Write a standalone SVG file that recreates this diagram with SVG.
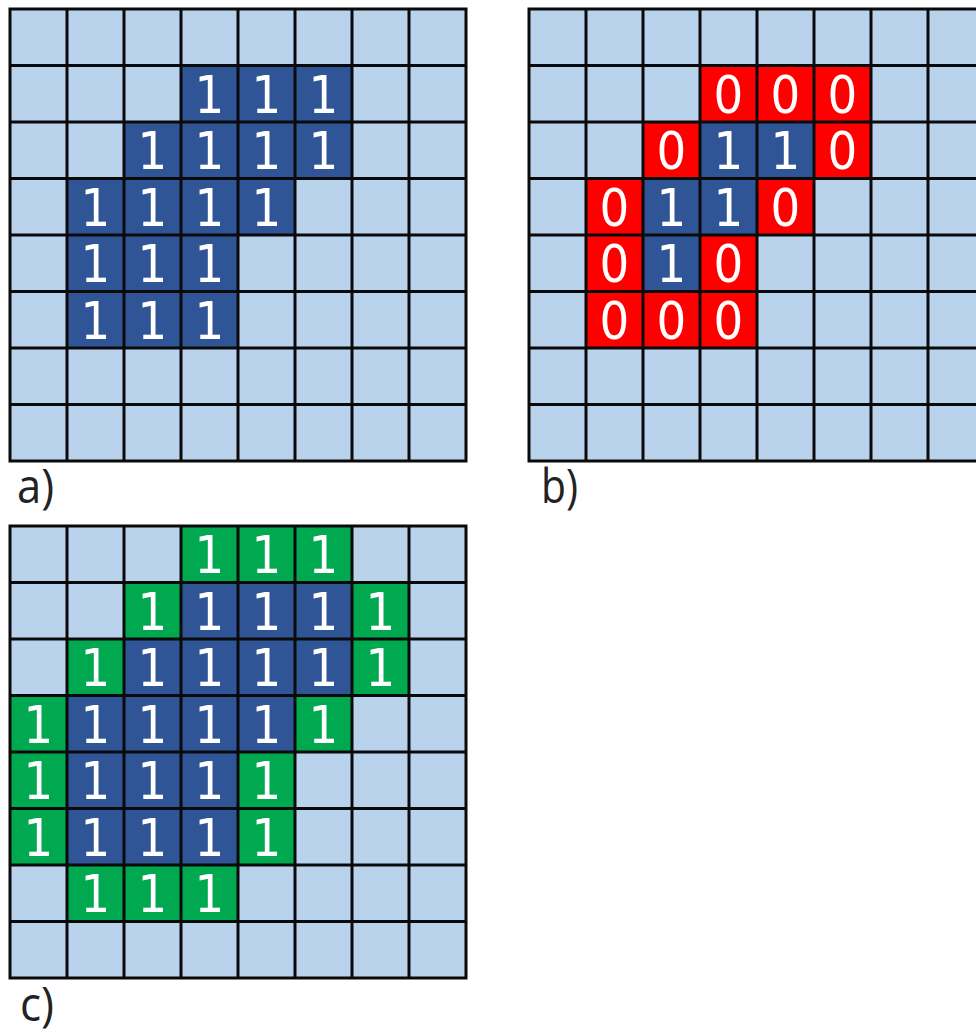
<svg xmlns="http://www.w3.org/2000/svg" width="976" height="1034" viewBox="0 0 976 1034">
<style>
.bg{fill:#BAD3EC}
.bl{fill:#2F5597}
.rd{fill:#FF0000}
.gn{fill:#00A84F}
.grid{fill:none;stroke:#0a0a0a;stroke-width:3;stroke-linecap:square}
.d{font-family:"DejaVu Sans Condensed","DejaVu Sans",sans-serif;font-stretch:condensed;font-size:52px;fill:#ffffff;text-anchor:middle}
.lb{font-family:"Open Sans","DejaVu Sans",sans-serif;font-size:48px;fill:#222222}
</style>
<rect width="976" height="1034" fill="#ffffff"/>
<g id="panel-a">
<rect class="bg" x="10" y="9" width="456" height="452"/>
<rect class="bl" x="181" y="65.5" width="171" height="56.5"/>
<rect class="bl" x="124" y="122" width="228" height="56.5"/>
<rect class="bl" x="67" y="178.5" width="228" height="56.5"/>
<rect class="bl" x="67" y="235" width="171" height="113"/>
<path class="grid" d="M10 9V461M67 9V461M124 9V461M181 9V461M238 9V461M295 9V461M352 9V461M409 9V461M466 9V461M10 9H466M10 65.5H466M10 122H466M10 178.5H466M10 235H466M10 291.5H466M10 348H466M10 404.5H466M10 461H466"/>
<text class="d" x="209.5" y="112.5">1</text><text class="d" x="266.5" y="112.5">1</text><text class="d" x="323.5" y="112.5">1</text>
<text class="d" x="152.5" y="169">1</text><text class="d" x="209.5" y="169">1</text><text class="d" x="266.5" y="169">1</text><text class="d" x="323.5" y="169">1</text>
<text class="d" x="95.5" y="225.5">1</text><text class="d" x="152.5" y="225.5">1</text><text class="d" x="209.5" y="225.5">1</text><text class="d" x="266.5" y="225.5">1</text>
<text class="d" x="95.5" y="282">1</text><text class="d" x="152.5" y="282">1</text><text class="d" x="209.5" y="282">1</text>
<text class="d" x="95.5" y="338.5">1</text><text class="d" x="152.5" y="338.5">1</text><text class="d" x="209.5" y="338.5">1</text>
<text class="lb" x="17" y="503" textLength="37" lengthAdjust="spacingAndGlyphs">a)</text>
</g>
<g id="panel-b">
<rect class="bg" x="529" y="9" width="456" height="452"/>
<rect class="rd" x="700" y="65.5" width="171" height="56.5"/>
<rect class="rd" x="643" y="122" width="57" height="56.5"/>
<rect class="bl" x="700" y="122" width="114" height="56.5"/>
<rect class="rd" x="814" y="122" width="57" height="56.5"/>
<rect class="rd" x="586" y="178.5" width="57" height="56.5"/>
<rect class="bl" x="643" y="178.5" width="114" height="56.5"/>
<rect class="rd" x="757" y="178.5" width="57" height="56.5"/>
<rect class="rd" x="586" y="235" width="57" height="56.5"/>
<rect class="bl" x="643" y="235" width="57" height="56.5"/>
<rect class="rd" x="700" y="235" width="57" height="56.5"/>
<rect class="rd" x="586" y="291.5" width="171" height="56.5"/>
<path class="grid" d="M529 9V461M586 9V461M643 9V461M700 9V461M757 9V461M814 9V461M871 9V461M928 9V461M985 9V461M529 9H985M529 65.5H985M529 122H985M529 178.5H985M529 235H985M529 291.5H985M529 348H985M529 404.5H985M529 461H985"/>
<text class="d" x="728.5" y="112.5">0</text><text class="d" x="785.5" y="112.5">0</text><text class="d" x="842.5" y="112.5">0</text>
<text class="d" x="671.5" y="169">0</text><text class="d" x="728.5" y="169">1</text><text class="d" x="785.5" y="169">1</text><text class="d" x="842.5" y="169">0</text>
<text class="d" x="614.5" y="225.5">0</text><text class="d" x="671.5" y="225.5">1</text><text class="d" x="728.5" y="225.5">1</text><text class="d" x="785.5" y="225.5">0</text>
<text class="d" x="614.5" y="282">0</text><text class="d" x="671.5" y="282">1</text><text class="d" x="728.5" y="282">0</text>
<text class="d" x="614.5" y="338.5">0</text><text class="d" x="671.5" y="338.5">0</text><text class="d" x="728.5" y="338.5">0</text>
<text class="lb" x="541" y="503" textLength="37" lengthAdjust="spacingAndGlyphs">b)</text>
</g>
<g id="panel-c">
<rect class="bg" x="10" y="526" width="456" height="452"/>
<rect class="gn" x="181" y="526" width="171" height="56.5"/>
<rect class="gn" x="124" y="582.5" width="57" height="56.5"/>
<rect class="bl" x="181" y="582.5" width="171" height="56.5"/>
<rect class="gn" x="352" y="582.5" width="57" height="56.5"/>
<rect class="gn" x="67" y="639" width="57" height="56.5"/>
<rect class="bl" x="124" y="639" width="228" height="56.5"/>
<rect class="gn" x="352" y="639" width="57" height="56.5"/>
<rect class="gn" x="10" y="695.5" width="57" height="56.5"/>
<rect class="bl" x="67" y="695.5" width="228" height="56.5"/>
<rect class="gn" x="295" y="695.5" width="57" height="56.5"/>
<rect class="gn" x="10" y="752" width="57" height="113"/>
<rect class="bl" x="67" y="752" width="171" height="113"/>
<rect class="gn" x="238" y="752" width="57" height="113"/>
<rect class="gn" x="67" y="865" width="171" height="56.5"/>
<path class="grid" d="M10 526V978M67 526V978M124 526V978M181 526V978M238 526V978M295 526V978M352 526V978M409 526V978M466 526V978M10 526H466M10 582.5H466M10 639H466M10 695.5H466M10 752H466M10 808.5H466M10 865H466M10 921.5H466M10 978H466"/>
<text class="d" x="209.5" y="573">1</text><text class="d" x="266.5" y="573">1</text><text class="d" x="323.5" y="573">1</text>
<text class="d" x="152.5" y="629.5">1</text><text class="d" x="209.5" y="629.5">1</text><text class="d" x="266.5" y="629.5">1</text><text class="d" x="323.5" y="629.5">1</text><text class="d" x="380.5" y="629.5">1</text>
<text class="d" x="95.5" y="686">1</text><text class="d" x="152.5" y="686">1</text><text class="d" x="209.5" y="686">1</text><text class="d" x="266.5" y="686">1</text><text class="d" x="323.5" y="686">1</text><text class="d" x="380.5" y="686">1</text>
<text class="d" x="38.5" y="742.5">1</text><text class="d" x="95.5" y="742.5">1</text><text class="d" x="152.5" y="742.5">1</text><text class="d" x="209.5" y="742.5">1</text><text class="d" x="266.5" y="742.5">1</text><text class="d" x="323.5" y="742.5">1</text>
<text class="d" x="38.5" y="799">1</text><text class="d" x="95.5" y="799">1</text><text class="d" x="152.5" y="799">1</text><text class="d" x="209.5" y="799">1</text><text class="d" x="266.5" y="799">1</text>
<text class="d" x="38.5" y="855.5">1</text><text class="d" x="95.5" y="855.5">1</text><text class="d" x="152.5" y="855.5">1</text><text class="d" x="209.5" y="855.5">1</text><text class="d" x="266.5" y="855.5">1</text>
<text class="d" x="95.5" y="912">1</text><text class="d" x="152.5" y="912">1</text><text class="d" x="209.5" y="912">1</text>
<text class="lb" x="20" y="1021" textLength="34" lengthAdjust="spacingAndGlyphs">c)</text>
</g>
</svg>
